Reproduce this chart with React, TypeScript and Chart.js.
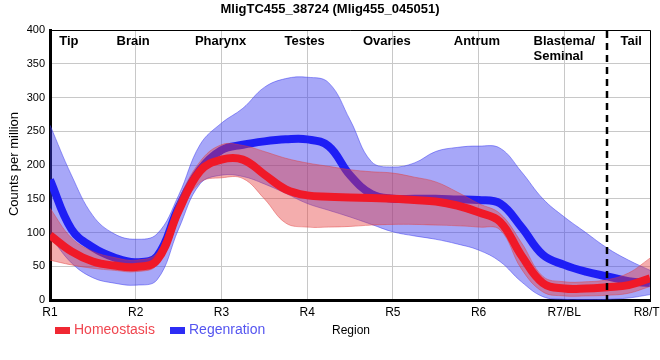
import React, { useEffect, useRef } from "react";
import { Chart, registerables } from "chart.js";

Chart.register(...registerables);

const TITLE = "MligTC455_38724 (Mlig455_045051)";
const TICK_LABELS = ["R1", "R2", "R3", "R4", "R5", "R6", "R7/BL", "R8/TL"];
const REGIONS: { text: string[]; at: number; align: "center" | "left" }[] = [
  { text: ["Tip"], at: 1.22, align: "center" },
  { text: ["Brain"], at: 1.97, align: "center" },
  { text: ["Pharynx"], at: 2.99, align: "center" },
  { text: ["Testes"], at: 3.97, align: "center" },
  { text: ["Ovaries"], at: 4.93, align: "center" },
  { text: ["Antrum"], at: 5.98, align: "center" },
  { text: ["Blastema/", "Seminal"], at: 7.0, align: "left" },
  { text: ["Tail"], at: 7.78, align: "center" },
];
const DIVIDER_AT = 7.5;

// sampled positions along the body (R1..R8)
const POS = [
  1, 1.25, 1.5, 1.75, 2, 2.25, 2.5, 2.75, 3, 3.25, 3.5, 3.75, 4, 4.25, 4.5,
  4.75, 5, 5.25, 5.5, 5.75, 6, 6.25, 6.5, 6.75, 7, 7.25, 7.5, 7.75, 8,
];

// Homeostasis
const HOMEO_MEAN = [
  96, 72, 57, 51, 49, 59, 132, 191, 208, 208, 186, 164, 155, 153, 152, 151,
  150, 148, 146, 140, 130, 116, 66, 25, 17, 17, 19, 22, 32,
];
const HOMEO_LOW = [
  59, 52, 47, 44, 42, 52, 125, 174, 181, 180, 150, 114, 108, 108, 109, 111,
  112, 112, 111, 110, 108, 104, 46, 12, 6, 6, 7, 10, 20,
];
const HOMEO_HIGH = [
  136, 92, 72, 63, 59, 70, 148, 205, 230, 229, 220, 210, 203, 198, 193, 190,
  188, 182, 175, 160, 143, 128, 85, 35, 27, 27, 30, 40, 62,
];

// Regeneration
const REGEN_MEAN = [
  178, 105, 78, 63, 56, 65, 137, 193, 222, 230, 235, 238, 238, 228, 185, 157,
  150, 150, 150, 149, 148, 143, 108, 67, 52, 42, 35, 28, 25,
];
const REGEN_LOW = [
  95, 55, 33, 25, 22, 30, 105, 172, 185, 183, 172, 158, 143, 133, 123, 112,
  101, 95, 90, 83, 74, 57, 27, 5, 1, 0, 1, 3, 8,
];
const REGEN_HIGH = [
  259, 185, 125, 98, 90, 98, 155, 230, 262, 284, 315, 328, 330, 322, 267, 205,
  197, 203, 220, 226, 228, 225, 190, 150, 123, 100, 77, 59, 44,
];

const FONT = "'Liberation Sans', Arial, sans-serif";

const pts = (ys: number[]) => POS.map((x, i) => ({ x, y: ys[i] }));

const overlay = {
  id: "overlay",
  afterDraw(chart: any) {
    const { ctx, chartArea, scales } = chart;
    const xs = scales.x;
    ctx.save();
    // top/right frame
    ctx.strokeStyle = "#000";
    ctx.lineWidth = 1;
    ctx.beginPath();
    ctx.moveTo(chartArea.left, chartArea.top + 0.5);
    ctx.lineTo(chartArea.right + 0.5, chartArea.top + 0.5);
    ctx.lineTo(chartArea.right + 0.5, chartArea.bottom);
    ctx.stroke();
    // divider
    const dx = Math.round(xs.getPixelForValue(DIVIDER_AT));
    ctx.lineWidth = 2.5;
    ctx.setLineDash([7, 5]);
    ctx.beginPath();
    ctx.moveTo(dx, chartArea.top + 1);
    ctx.lineTo(dx, chartArea.bottom);
    ctx.stroke();
    ctx.setLineDash([]);
    // title
    ctx.fillStyle = "#000";
    ctx.font = `bold 13px ${FONT}`;
    ctx.textAlign = "center";
    ctx.textBaseline = "middle";
    ctx.fillText(TITLE, 330, 9);
    // region labels
    ctx.textBaseline = "alphabetic";
    ctx.font = `bold 13px ${FONT}`;
    for (const r of REGIONS) {
      const cx = xs.getPixelForValue(r.at);
      if (r.align === "left") {
        const w = ctx.measureText(r.text[0]).width;
        ctx.textAlign = "left";
        r.text.forEach((t, i) => ctx.fillText(t, cx - w / 2, 44.5 + i * 15));
      } else {
        ctx.textAlign = "center";
        r.text.forEach((t, i) => ctx.fillText(t, cx, 44.5 + i * 15));
      }
    }
    // y-axis title
    ctx.save();
    ctx.translate(14, 164);
    ctx.rotate(-Math.PI / 2);
    ctx.font = `13px ${FONT}`;
    ctx.textAlign = "center";
    ctx.textBaseline = "middle";
    ctx.fillStyle = "#000";
    ctx.fillText("Counts per million", 0, 0);
    ctx.restore();
    // x-axis title
    ctx.font = `12px ${FONT}`;
    ctx.textAlign = "center";
    ctx.textBaseline = "middle";
    ctx.fillStyle = "#000";
    ctx.fillText("Region", 351, 331);
    // legend
    ctx.textAlign = "left";
    ctx.font = `14px ${FONT}`;
    ctx.fillStyle = "rgb(240,40,50)";
    ctx.fillRect(55, 327, 15, 7);
    ctx.fillStyle = "rgb(240,70,80)";
    ctx.fillText("Homeostasis", 74, 330.5);
    ctx.fillStyle = "rgb(45,45,245)";
    ctx.fillRect(170, 327, 15, 7);
    ctx.fillStyle = "rgb(85,85,240)";
    ctx.fillText("Regenration", 189, 330.5);
    ctx.restore();
  },
};

export default function App() {
  const ref = useRef<HTMLCanvasElement | null>(null);
  useEffect(() => {
    if (!ref.current) return;
    const smooth = { tension: 0.4, pointRadius: 0, pointHoverRadius: 0 };
    const chart = new Chart(ref.current, {
      type: "line",
      data: {
        datasets: [
          {
            label: "Homeostasis",
            data: pts(HOMEO_MEAN),
            borderColor: "rgb(240,25,40)",
            borderWidth: 8,
            fill: false,
            order: 1,
            ...smooth,
          },
          {
            label: "Homeostasis low",
            data: pts(HOMEO_LOW),
            borderColor: "rgba(225,60,60,0.45)",
            borderWidth: 1,
            fill: false,
            order: 3,
            ...smooth,
          },
          {
            label: "Homeostasis high",
            data: pts(HOMEO_HIGH),
            borderColor: "rgba(225,60,60,0.45)",
            backgroundColor: "rgba(228,60,60,0.42)",
            borderWidth: 1,
            fill: 1,
            order: 2,
            ...smooth,
          },
          {
            label: "Regenration",
            data: pts(REGEN_MEAN),
            borderColor: "rgb(30,30,245)",
            borderWidth: 8,
            fill: false,
            order: 4,
            ...smooth,
          },
          {
            label: "Regenration low",
            data: pts(REGEN_LOW),
            borderColor: "rgba(60,60,240,0.5)",
            borderWidth: 1,
            fill: false,
            order: 6,
            ...smooth,
          },
          {
            label: "Regenration high",
            data: pts(REGEN_HIGH),
            borderColor: "rgba(60,60,240,0.5)",
            backgroundColor: "rgba(60,60,240,0.45)",
            borderWidth: 1,
            fill: 4,
            order: 5,
            ...smooth,
          },
        ],
      },
      options: {
        responsive: false,
        animation: false,
        devicePixelRatio: 1,
        layout: { padding: { top: 30, right: 10, left: 0, bottom: 0 } },
        plugins: {
          legend: { display: false },
          title: { display: false },
          tooltip: { enabled: false },
        },
        scales: {
          x: {
            type: "linear",
            min: 1,
            max: 8,
            afterFit: (s: any) => {
              s.height = 60;
              s.paddingLeft = 0;
              s.paddingRight = 0;
            },
            ticks: {
              stepSize: 1,
              autoSkip: false,
              maxRotation: 0,
              padding: 5,
              color: "#000",
              font: { family: FONT, size: 12 },
              callback: (v: any) => TICK_LABELS[Math.round(Number(v)) - 1] ?? "",
            },
            grid: { color: "#c8c8c8", drawTicks: false, lineWidth: 1 },
            border: { color: "#000", width: 3 },
          },
          y: {
            min: 0,
            max: 400,
            afterFit: (s: any) => {
              s.width = 50;
              s.paddingTop = 0;
              s.paddingBottom = 0;
            },
            ticks: {
              stepSize: 50,
              padding: 5,
              color: "#000",
              font: { family: FONT, size: 11 },
            },
            grid: { color: "#c8c8c8", drawTicks: false, lineWidth: 1 },
            border: { color: "#000", width: 3 },
          },
        },
      },
      plugins: [overlay],
    });
    return () => chart.destroy();
  }, []);
  return (
    <div style={{ position: "absolute", left: 0, top: 0, width: 660, height: 360, background: "#fff" }}>
      <canvas ref={ref} width={660} height={360} style={{ width: 660, height: 360, display: "block" }} />
    </div>
  );
}
